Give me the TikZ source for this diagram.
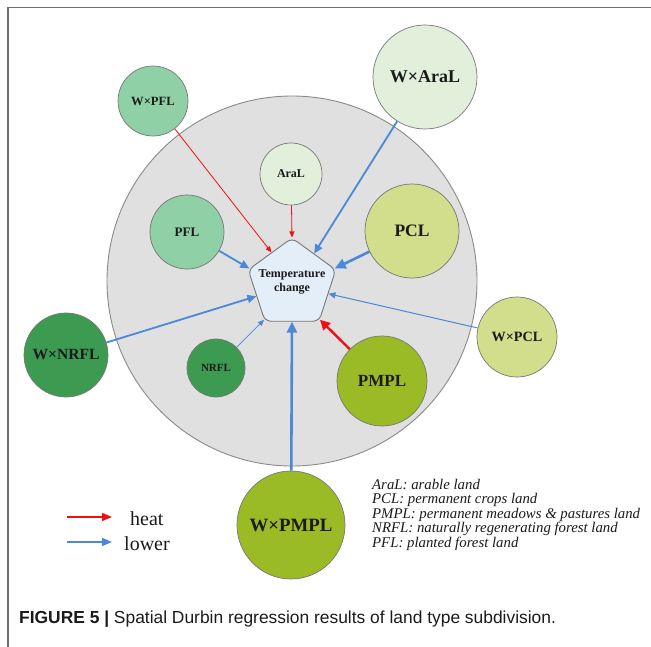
\documentclass[tikz,border=0pt]{standalone}
\usepackage{fontspec}
\setmainfont{Liberation Serif}
\setsansfont{Liberation Sans}
\usetikzlibrary{shapes.geometric,arrows.meta}
\definecolor{framegray}{HTML}{6E6E6E}
\definecolor{edgegray}{HTML}{777777}
\definecolor{biggray}{HTML}{E0E0E0}
\definecolor{bigedge}{HTML}{8A8A8A}
\definecolor{cAraL}{HTML}{E2EFDA}
\definecolor{cPFL}{HTML}{8FD0A6}
\definecolor{cPCL}{HTML}{D3DE8D}
\definecolor{cPMPL}{HTML}{9BBB26}
\definecolor{cNRFL}{HTML}{3C9B50}
\definecolor{cPent}{HTML}{E4EEF9}
\definecolor{hred}{HTML}{F01010}
\definecolor{lblue}{HTML}{4A88DA}
\definecolor{txt}{HTML}{1A1A1A}
\begin{document}
\begin{tikzpicture}[x=1bp,y=-1bp,
  land/.style 2 args={circle, draw=edgegray, line width=0.7bp, inner sep=0pt,
    minimum size=#1, text=txt, font=\bfseries\fontsize{#2}{#2}\selectfont},
  redthin/.style={draw=hred, line width=0.8bp, -{Triangle[length=6bp,width=5bp]}},
  redthick/.style={draw=hred, line width=2.4bp, -{Triangle[length=10bp,width=10bp]}},
  bluethin/.style={draw=lblue, line width=0.7bp, -{Triangle[length=6bp,width=5bp]}},
  bluelight/.style={draw=lblue, line width=1bp, -{Triangle[length=7bp,width=6bp]}},
  bluemid/.style={draw=lblue, line width=1.8bp, -{Triangle[length=9bp,width=8bp]}},
  bluethick/.style={draw=lblue, line width=2.6bp, -{Triangle[length=11bp,width=10bp]}},
  legtext/.style={anchor=base west, inner sep=0pt, text=txt, font=\itshape\fontsize{14.8bp}{14.8bp}\selectfont},
  keytext/.style={anchor=base west, inner sep=0pt, text=txt, font=\fontsize{20bp}{20bp}\selectfont}
]
\useasboundingbox (0,0) rectangle (651,647);
% frame
\draw[framegray, line width=1.2bp] (8,647) -- (8,7.5) -- (651,7.5);
% big gray circle
\draw[bigedge, fill=biggray, line width=0.9bp] (292,281) circle[radius=185];
% central pentagon
\node[regular polygon, regular polygon sides=5, minimum size=92bp, inner sep=0pt,
  draw=edgegray, line width=0.9bp, fill=cPent, rounded corners=6bp] (pent) at (292,284) {};
\node[align=center, inner sep=0pt, text=txt, font=\bfseries\fontsize{12bp}{14bp}\selectfont] (ptext) at (292,282) {Temperature\\change};
% land nodes
\node[land={104bp}{18bp}, fill=cAraL] (waral) at (425,77) {W×AraL};
\node[land={62bp}{12bp}, fill=cAraL] (aral) at (291,174) {AraL};
\node[land={70bp}{12.6bp}, fill=cPFL] (wpfl) at (153,101) {W×PFL};
\node[land={74bp}{13bp}, fill=cPFL] (pfl) at (187,232) {PFL};
\node[land={94bp}{17.5bp}, fill=cPCL] (pcl) at (412,231) {PCL};
\node[land={80bp}{14.2bp}, fill=cPCL] (wpcl) at (517,337) {W×PCL};
\node[land={84bp}{15.6bp}, fill=cNRFL] (wnrfl) at (66,355) {W×NRFL};
\node[land={58bp}{11bp}, fill=cNRFL] (nrfl) at (216,368) {NRFL};
\node[land={90bp}{17bp}, fill=cPMPL] (pmpl) at (382,381) {PMPL};
\node[land={108bp}{18.8bp}, fill=cPMPL] (wpmpl) at (291,525) {W×PMPL};
% connectors
\draw[redthin] (wpfl) -- (pent.123);
\draw[redthin] (aral) -- (pent.90);
\draw[bluemid] (waral) -- (pent.54);
\draw[bluethick] (pcl) -- (pent.20);
\draw[bluemid] (pfl) -- (pent.160);
\draw[bluemid] (wnrfl) -- (pent.199);
\draw[bluethin] (nrfl) -- (pent.232);
\draw[bluethick] (wpmpl) -- (pent.270);
\draw[redthick] (pmpl) -- (pent.308);
\draw[bluelight] (wpcl) -- (pent.345);
% key
\coordinate (k1a) at (67,517);
\coordinate (k1b) at (112,517);
\coordinate (k2a) at (67,542);
\coordinate (k2b) at (112,542);
\draw[draw=hred, line width=1.5bp, -{Triangle[length=10bp,width=8bp]}] (k1a) -- (k1b);
\draw[draw=lblue, line width=1.5bp, -{Triangle[length=10bp,width=8bp]}] (k2a) -- (k2b);
\node[keytext] (kheat) at (130,525) {heat};
\node[keytext] (klower) at (124,550) {lower};
% abbreviations
\node[legtext] (l1) at (372,489) {AraL: arable land};
\node[legtext] (l2) at (372,503.6) {PCL: permanent crops land};
\node[legtext] (l3) at (372,518.2) {PMPL: permanent meadows \& pastures land};
\node[legtext] (l4) at (372,532.8) {NRFL: naturally regenerating forest land};
\node[legtext] (l5) at (372,547.4) {PFL: planted forest land};
% caption
\node[anchor=base west, inner sep=0pt, text=txt, font=\sffamily\fontsize{17.4bp}{17.4bp}\selectfont] (cap) at (19,623) {\textbf{FIGURE 5 |} Spatial Durbin regression results of land type subdivision.};
\end{tikzpicture}
\end{document}
